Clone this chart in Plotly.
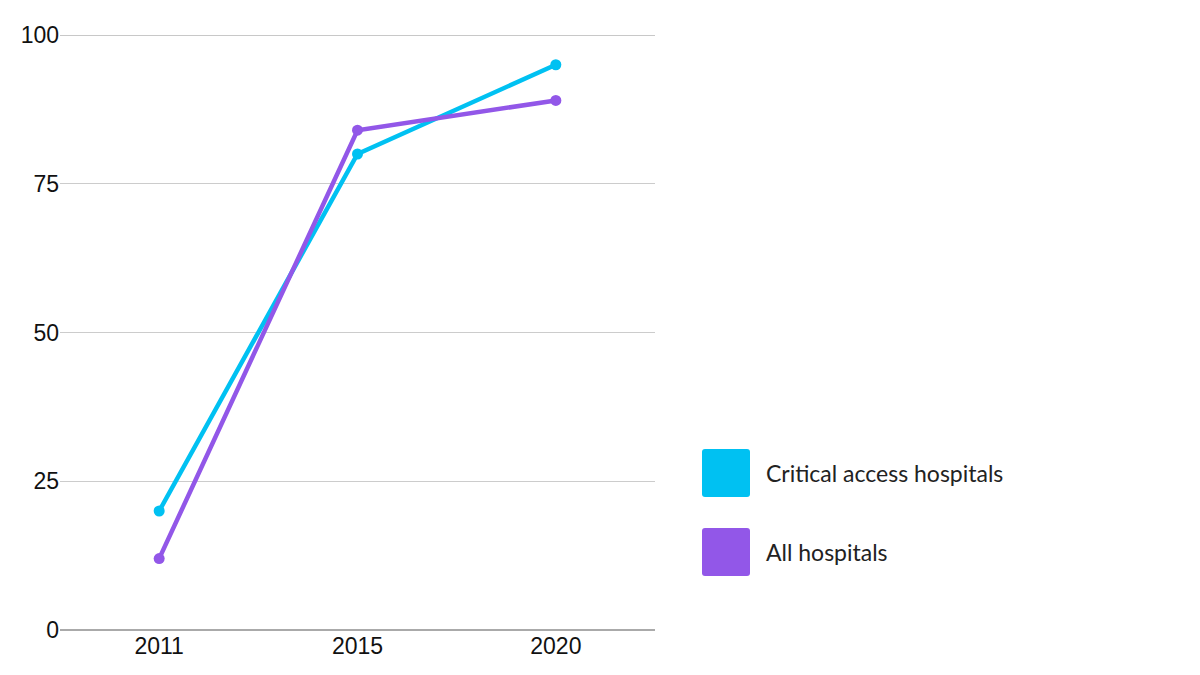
import plotly.graph_objects as go

years = ["2011", "2015", "2020"]
critical_access = [20, 80, 95]
all_hospitals = [12, 84, 89]
series_names = ["Critical access hospitals", "All hospitals"]
colors = ["#00C1F2", "#9257E8"]
y_ticks = [0, 25, 50, 75, 100]

OFF = 8  # page body offset
W, H = 1200, 675
L, T = 60 - OFF, 35 - OFF
pw, ph = 595, 595
R = W - L - pw
B = H - T - ph

fig = go.Figure()
for name, vals, c in zip(series_names, [critical_access, all_hospitals], colors):
    fig.add_trace(go.Scatter(x=years, y=vals, name=name, mode="lines+markers",
                             line=dict(color=c, width=4.5), marker=dict(color=c, size=11),
                             showlegend=False))

def px_x(p):
    return (p - OFF - L) / pw

def px_y(p):
    return (H - B - (p - OFF)) / ph

def rounded(x0, y0, x1, y1, r=3):
    return (f"M {px_x(x0+r)} {px_y(y0)} L {px_x(x1-r)} {px_y(y0)} "
            f"Q {px_x(x1)} {px_y(y0)} {px_x(x1)} {px_y(y0+r)} "
            f"L {px_x(x1)} {px_y(y1-r)} Q {px_x(x1)} {px_y(y1)} {px_x(x1-r)} {px_y(y1)} "
            f"L {px_x(x0+r)} {px_y(y1)} Q {px_x(x0)} {px_y(y1)} {px_x(x0)} {px_y(y1-r)} "
            f"L {px_x(x0)} {px_y(y0+r)} Q {px_x(x0)} {px_y(y0)} {px_x(x0+r)} {px_y(y0)} Z")

shapes = [dict(type="line", xref="paper", x0=0, x1=1, yref="y",
               y0=y_ticks[-1], y1=y_ticks[-1], line=dict(color="#C8C8C8", width=2), layer="below")]
annotations = []
for i, (name, c) in enumerate(zip(series_names, colors)):
    top = 449 + i * 79
    shapes.append(dict(type="path", xref="paper", yref="paper",
                       path=rounded(702, top, 750, top + 48),
                       fillcolor=c, line=dict(width=0)))
    annotations.append(dict(xref="paper", yref="paper", x=px_x(764), y=px_y(top + 24),
                            xanchor="left", yanchor="middle", text=name, showarrow=False,
                            font=dict(family="Lato, Noto Sans, sans-serif", size=23, color="#222222")))

fig.update_layout(
    width=W, height=H,
    margin=dict(l=L, r=R, t=T, b=B),
    paper_bgcolor="white", plot_bgcolor="white",
    shapes=shapes, annotations=annotations,
    font=dict(family="Liberation Sans, Arial, sans-serif", size=23, color="#111111"),
    xaxis=dict(type="category", range=[-0.5, 2.5], showgrid=False, showline=False,
               ticks="", tickfont=dict(size=23)),
    yaxis=dict(range=[0, 100], tickvals=y_ticks, showgrid=True, gridcolor="#CCCCCC",
               gridwidth=1, zeroline=True, zerolinecolor="#AAAAAA", zerolinewidth=2,
               ticks="", showline=False, tickfont=dict(size=23)),
)

fig.write_html("out.html")
